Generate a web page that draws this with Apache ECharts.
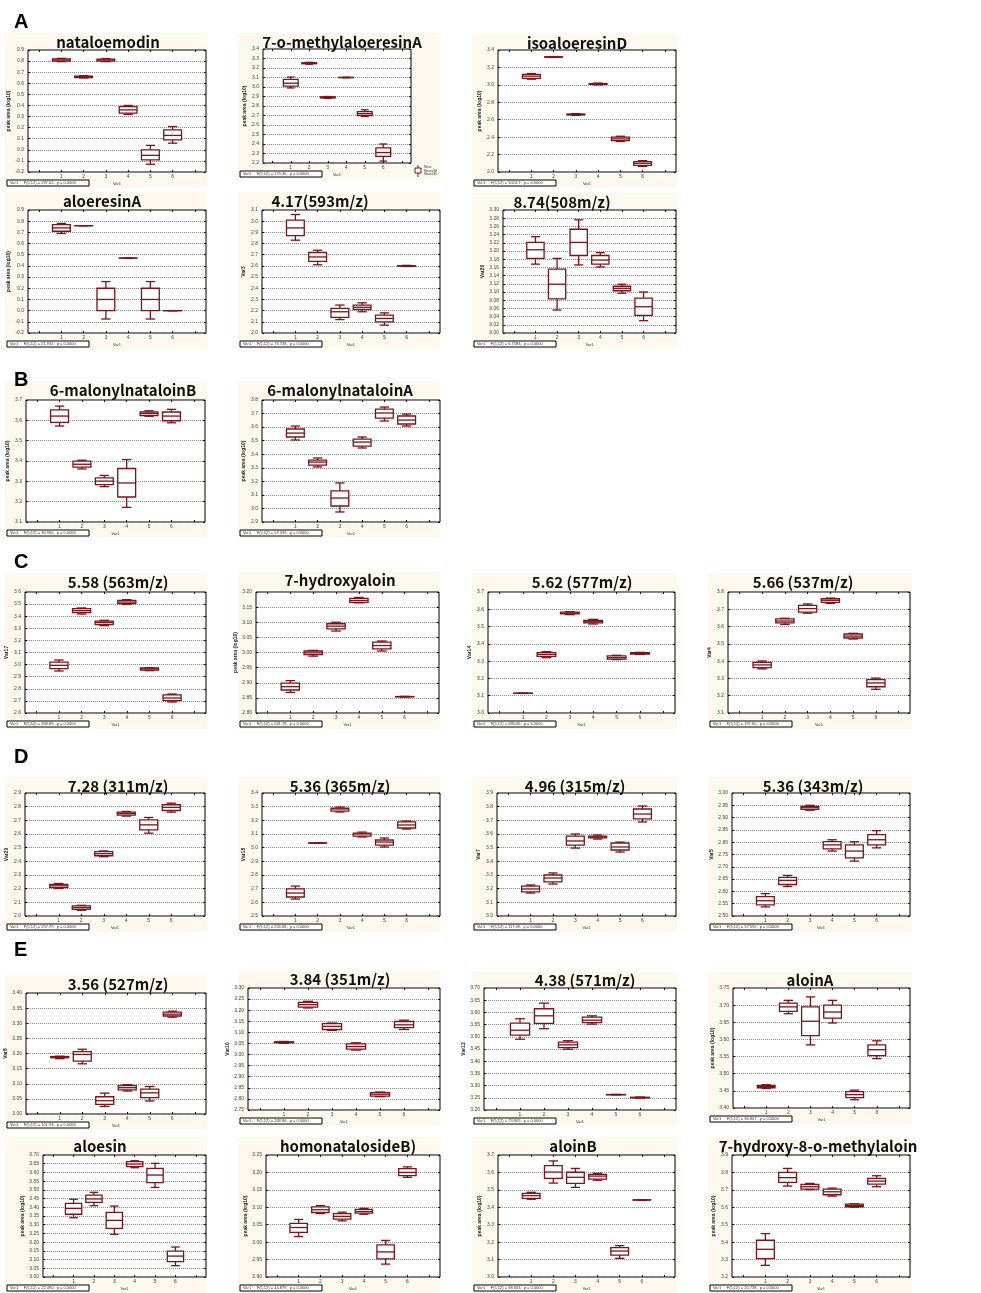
<!DOCTYPE html>
<html><head><meta charset="utf-8">
<script src="https://cdn.jsdelivr.net/npm/echarts/dist/echarts.min.js"></script>
<style>html,body{margin:0;padding:0;background:#fff}#c{width:981px;height:1293px}</style>
</head><body><div id="c"></div>
<script>
// ---------- DATA ----------
const groups = ['', '1', '2', '3', '4', '5', '6', ''];
const titles = ['nataloemodin','7-o-methylaloeresinA','isoaloeresinD','aloeresinA','4.17(593m/z)','8.74(508m/z)',
  '6-malonylnataloinB','6-malonylnataloinA',
  '5.58 (563m/z)','7-hydroxyaloin','5.62 (577m/z)','5.66 (537m/z)',
  '7.28 (311m/z)','5.36 (365m/z)','4.96 (315m/z)','5.36 (343m/z)',
  '3.56 (527m/z)','3.84 (351m/z)','4.38 (571m/z)','aloinA',
  'aloesin','homonatalosideB)','aloinB','7-hydroxy-8-o-methylaloin'];
const yNames = ['peak area (log10)','peak area (log10)','peak area (log10)','peak area (log10)','Var3','Var20',
  'peak area (log10)','peak area (log10)',
  'Var17','peak area (log10)','Var14','Var4',
  'Var29','Var18','Var7','Var5',
  'Var8','Var10','Var12','peak area (log10)',
  'peak area (log10)','peak area (log10)','peak area (log10)','peak area (log10)'];
const yMin  = [-0.2, 2.2, 2.0, -0.2, 2.0, 3.00, 3.1, 2.9, 2.6, 2.80, 3.0, 3.1, 2.0, 2.5, 3.0, 2.50, 3.00, 2.75, 3.20, 3.40, 3.00, 2.90, 3.0, 3.2];
const yMax  = [ 0.9, 3.4, 3.4,  0.9, 3.1, 3.30, 3.7, 3.8, 3.6, 3.20, 3.7, 3.8, 2.9, 3.4, 3.9, 3.00, 3.40, 3.30, 3.70, 3.75, 3.70, 3.25, 3.7, 3.9];
const yStep = [ 0.1, 0.1, 0.2,  0.1, 0.1, 0.02, 0.1, 0.1, 0.1, 0.05, 0.1, 0.1, 0.1, 0.1, 0.1, 0.05, 0.05, 0.05, 0.05, 0.05, 0.05, 0.05, 0.1, 0.1];
const fStats = ['237.02','179.36','1024.7','21.932','73.738','6.7583','36.960','57.339','308.89','241.78','283.46','197.60',
  '257.79','224.48','117.09','57.592','101.93','268.86','73.809','30.807','22.490','44.879','38.663','20.738'];

// each group: [min, Q1, median, Q3, max]
const nataloemodin = [[0.795,0.80,0.81,0.82,0.825],[0.648,0.652,0.66,0.665,0.668],[0.795,0.80,0.81,0.818,0.823],[0.32,0.33,0.36,0.39,0.40],[-0.13,-0.09,-0.05,0.0,0.04],[0.06,0.09,0.13,0.18,0.21]];
const methylaloeresinA = [[2.99,3.01,3.04,3.08,3.105],[3.24,3.245,3.25,3.255,3.26],[2.88,2.885,2.89,2.897,2.90],[3.097,3.099,3.10,3.101,3.103],[2.69,2.70,2.72,2.74,2.76],[2.22,2.27,2.31,2.36,2.40]];
const isoaloeresinD = [[3.065,3.075,3.10,3.12,3.13],[3.315,3.318,3.32,3.322,3.325],[2.65,2.655,2.66,2.665,2.67],[3.00,3.005,3.01,3.015,3.02],[2.35,2.36,2.38,2.40,2.41],[2.065,2.075,2.10,2.12,2.13]];
const aloeresinA = [[0.69,0.71,0.74,0.77,0.78],[0.76,0.76,0.76,0.76,0.76],[-0.075,0.0,0.1,0.2,0.26],[0.47,0.47,0.47,0.47,0.47],[-0.075,0.0,0.1,0.2,0.26],[0.0,0.0,0.0,0.0,0.0]];
const mz593 = [[2.83,2.87,2.94,3.01,3.06],[2.61,2.64,2.68,2.72,2.74],[2.12,2.14,2.19,2.22,2.25],[2.19,2.21,2.23,2.25,2.27],[2.07,2.10,2.13,2.16,2.18],[2.595,2.598,2.60,2.602,2.605]];
const mz508 = [[3.168,3.182,3.203,3.221,3.235],[3.056,3.083,3.119,3.156,3.182],[3.166,3.189,3.221,3.253,3.276],[3.161,3.168,3.178,3.189,3.196],[3.097,3.103,3.109,3.114,3.119],[3.030,3.043,3.064,3.085,3.100]];
const malonylnataloinB = [[3.572,3.590,3.621,3.651,3.670],[3.361,3.370,3.384,3.399,3.404],[3.274,3.284,3.301,3.317,3.329],[3.172,3.223,3.292,3.363,3.407],[3.620,3.623,3.633,3.641,3.647],[3.588,3.598,3.621,3.641,3.654]];
const malonylnataloinA = [[3.505,3.527,3.556,3.586,3.608],[3.306,3.320,3.342,3.357,3.372],[2.974,3.018,3.077,3.129,3.188],[3.446,3.460,3.490,3.512,3.527],[3.645,3.667,3.704,3.733,3.748],[3.608,3.623,3.652,3.682,3.696]];
const mz563 = [[2.947,2.966,2.994,3.021,3.038],[3.418,3.429,3.446,3.462,3.468],[3.322,3.330,3.347,3.360,3.366],[3.498,3.504,3.517,3.531,3.537],[2.950,2.955,2.964,2.972,2.975],[2.691,2.702,2.724,2.749,2.757]];
const hydroxyaloin = [[2.868,2.876,2.887,2.899,2.907],[2.988,2.993,2.999,3.005,3.007],[3.071,3.078,3.087,3.095,3.100],[3.164,3.166,3.172,3.179,3.182],[3.005,3.012,3.023,3.034,3.038],[2.853,2.8535,2.854,2.8545,2.855]];
const mz577 = [[3.113,3.1135,3.114,3.1145,3.115],[3.320,3.328,3.339,3.349,3.355],[3.569,3.573,3.578,3.584,3.586],[3.515,3.521,3.528,3.536,3.542],[3.309,3.312,3.320,3.330,3.334],[3.339,3.341,3.345,3.349,3.351]];
const mz537 = [[3.355,3.362,3.378,3.393,3.401],[3.613,3.621,3.632,3.644,3.648],[3.677,3.684,3.704,3.723,3.731],[3.734,3.740,3.752,3.761,3.765],[3.528,3.534,3.545,3.557,3.561],[3.237,3.252,3.274,3.293,3.302]];
const mz311 = [[2.201,2.208,2.221,2.231,2.238],[2.042,2.049,2.061,2.074,2.078],[2.434,2.441,2.456,2.471,2.476],[2.731,2.738,2.750,2.760,2.765],[2.606,2.630,2.667,2.704,2.721],[2.760,2.772,2.795,2.814,2.826]];
const mz365 = [[2.624,2.639,2.668,2.698,2.719],[3.033,3.033,3.034,3.035,3.035],[3.261,3.268,3.283,3.290,3.297],[3.078,3.085,3.100,3.107,3.114],[3.005,3.019,3.041,3.056,3.071],[3.136,3.144,3.166,3.188,3.195]];
const mz315 = [[3.168,3.176,3.198,3.219,3.227],[3.234,3.249,3.278,3.300,3.315],[3.497,3.519,3.549,3.585,3.600],[3.563,3.571,3.578,3.585,3.593],[3.468,3.483,3.505,3.534,3.541],[3.688,3.710,3.746,3.783,3.805]];
const mz343 = [[2.537,2.545,2.562,2.579,2.591],[2.620,2.628,2.645,2.657,2.665],[2.930,2.934,2.942,2.946,2.950],[2.764,2.773,2.789,2.802,2.810],[2.723,2.736,2.764,2.789,2.802],[2.777,2.789,2.810,2.831,2.847]];
const mz527 = [[3.183,3.186,3.188,3.190,3.191],[3.166,3.175,3.197,3.206,3.214],[3.025,3.032,3.044,3.057,3.069],[3.076,3.080,3.087,3.094,3.097],[3.043,3.054,3.070,3.082,3.091],[3.320,3.324,3.330,3.337,3.340]];
const mz351 = [[3.051,3.053,3.056,3.057,3.059],[3.210,3.214,3.225,3.235,3.240],[3.109,3.113,3.127,3.139,3.142],[3.020,3.024,3.036,3.048,3.053],[2.810,2.813,2.821,2.828,2.831],[3.113,3.121,3.134,3.149,3.155]];
const mz571 = [[3.490,3.507,3.527,3.556,3.574],[3.533,3.555,3.586,3.615,3.638],[3.449,3.456,3.467,3.478,3.484],[3.552,3.558,3.568,3.581,3.586],[3.262,3.2625,3.263,3.2635,3.264],[3.249,3.250,3.251,3.252,3.253]];
const aloinA = [[3.457,3.459,3.463,3.466,3.468],[3.675,3.682,3.695,3.706,3.714],[3.584,3.611,3.653,3.695,3.724],[3.648,3.662,3.680,3.700,3.714],[3.424,3.430,3.439,3.448,3.452],[3.544,3.553,3.570,3.584,3.596]];
const aloesin = [[3.340,3.360,3.394,3.423,3.446],[3.409,3.428,3.448,3.470,3.486],[3.245,3.279,3.325,3.371,3.407],[3.627,3.633,3.648,3.662,3.667],[3.514,3.541,3.585,3.623,3.652],[3.065,3.088,3.120,3.149,3.172]];
const homonatalosideB = [[3.016,3.028,3.042,3.054,3.065],[3.082,3.085,3.093,3.101,3.105],[3.061,3.066,3.074,3.082,3.086],[3.080,3.083,3.088,3.094,3.097],[2.937,2.952,2.972,2.992,3.005],[3.186,3.191,3.200,3.211,3.216]];
const aloinB = [[3.446,3.451,3.467,3.480,3.486],[3.539,3.566,3.602,3.639,3.666],[3.514,3.537,3.572,3.601,3.623],[3.555,3.562,3.579,3.589,3.595],[3.107,3.126,3.149,3.168,3.180],[3.441,3.4415,3.442,3.4425,3.443]];
const hydroxyMethylaloin = [[3.267,3.305,3.359,3.411,3.449],[3.722,3.743,3.770,3.800,3.823],[3.701,3.704,3.718,3.731,3.737],[3.664,3.672,3.689,3.704,3.710],[3.601,3.603,3.610,3.618,3.620],[3.718,3.733,3.750,3.766,3.781]];

const panelData = [nataloemodin, methylaloeresinA, isoaloeresinD, aloeresinA, mz593, mz508,
  malonylnataloinB, malonylnataloinA, mz563, hydroxyaloin, mz577, mz537,
  mz311, mz365, mz315, mz343, mz527, mz351, mz571, aloinA,
  aloesin, homonatalosideB, aloinB, hydroxyMethylaloin];

// ---------- LAYOUT ----------
// [plotLeft, plotTop, plotRight, plotBottom, titleCx, titleCy, column]
const layout = [
  [28,50,206,172,108,42,0],[263,49,411,163,342,42,1],[498,50,676,172,577,43,2],
  [28,210,206,333,102,201,0],[262,210,440,333,320,201,1],[503,210,676,333,562,202,2],
  [26,400,205,522,123,390,0],[262,400,440,522,340,390,1],
  [25,592,206,713,118,582,0],[256,592,439,713,340,580,1],[488,592,675,713,582,582,2],[728,592,910,713,803,582,3],
  [25,793,205,916,118,786,0],[262,793,440,916,340,786,1],[497,793,676,916,575,786,2],[732,793,910,916,813,786,3],
  [26,993,206,1114,118,984,0],[248,988,440,1110,340,979,1],[484,988,676,1110,585,980,2],[733,988,910,1108,810,980,3],
  [43,1155,206,1277,100,1146,0],[266,1155,440,1277,348,1146,1],[498,1155,675,1277,573,1146,2],[732,1155,910,1277,818,1146,3]
];
const colBg = [[5,207],[238,440],[472,677],[708,912]];
const letters = [['A',14,22],['B',14,380],['C',14,562],['D',14,757],['E',14,950]];

const LINE = '#7a1418';
function renderBox(params, api) {
  const x = api.value(0);
  const pts = [1,2,3,4,5].map(k => api.coord([x, api.value(k)]));
  const cx = pts[0][0];
  const band = api.size([1, 0])[0];
  const bw = band * 0.4, cw = band * 0.21;
  const [pMin, pQ1, pMed, pQ3, pMax] = pts.map(p => p[1]);
  const st = {stroke: LINE, lineWidth: 1.3, fill: null};
  return {type: 'group', children: [
    {type: 'line', shape: {x1: cx, y1: pMax, x2: cx, y2: pQ3}, style: st},
    {type: 'line', shape: {x1: cx, y1: pQ1, x2: cx, y2: pMin}, style: st},
    {type: 'line', shape: {x1: cx - cw, y1: pMax, x2: cx + cw, y2: pMax}, style: st},
    {type: 'line', shape: {x1: cx - cw, y1: pMin, x2: cx + cw, y2: pMin}, style: st},
    {type: 'rect', shape: {x: cx - bw, y: pQ3, width: 2 * bw, height: Math.max(pQ1 - pQ3, 0.01)}, style: {stroke: LINE, lineWidth: 1.3, fill: '#fff'}},
    {type: 'line', shape: {x1: cx - bw, y1: pMed, x2: cx + bw, y2: pMed}, style: st}
  ]};
}

const grid = [], xAxis = [], yAxis = [], series = [], graphic = [];
layout.forEach((L, i) => {
  const [l, t, r, b, tx, ty, col] = L;
  const dec = yStep[i] < 0.1 ? 2 : 1;
  const tick = {show: true, alignWithLabel: true, inside: true, length: 2, lineStyle: {color: '#000'}};
  grid.push({left: l, top: t, width: r - l, height: b - t, show: true, borderColor: '#000', borderWidth: 1, backgroundColor: '#fff', containLabel: false});
  xAxis.push({gridIndex: i, type: 'category', position: 'bottom', data: groups, boundaryGap: true,
    axisLine: {show: false, onZero: false}, axisTick: tick,
    axisLabel: {fontSize: 5, color: '#444', margin: 2, interval: 0}, splitLine: {show: false}});
  xAxis.push({gridIndex: i, type: 'category', position: 'top', data: groups, boundaryGap: true,
    axisLine: {show: false, onZero: false}, axisTick: tick, axisLabel: {show: false}, splitLine: {show: false}});
  yAxis.push({gridIndex: i, type: 'value', position: 'left', min: yMin[i], max: yMax[i], interval: yStep[i],
    axisLine: {show: false, onZero: false}, axisTick: {show: true, inside: true, length: 2, lineStyle: {color: '#000'}},
    axisLabel: {fontSize: 5, color: '#444', margin: 4, formatter: v => v.toFixed(dec)},
    splitLine: {show: true, lineStyle: {type: 'dotted', color: '#8c8c8c', width: 1}},
    name: yNames[i], nameLocation: 'middle', nameGap: 16, nameRotate: 90,
    nameTextStyle: {fontSize: 5, color: '#222', fontWeight: 'bold'}});
  yAxis.push({gridIndex: i, type: 'value', position: 'right', min: yMin[i], max: yMax[i], interval: yStep[i],
    axisLine: {show: false, onZero: false}, axisTick: {show: true, inside: true, length: 2, lineStyle: {color: '#000'}},
    axisLabel: {show: false}, splitLine: {show: false}});
  series.push({type: 'custom', xAxisIndex: 2 * i, yAxisIndex: 2 * i, renderItem: renderBox, clip: false,
    encode: {x: 0, y: [1, 2, 3, 4, 5]},
    data: panelData[i].map((d, k) => [k + 1].concat(d))});

  // panel background
  graphic.push({type: 'rect', z: -10, silent: true, shape: {x: colBg[col][0], y: ty - 9, width: colBg[col][1] - colBg[col][0], height: b + 16 - (ty - 9)}, style: {fill: '#fdf9ee'}});
  // title
  graphic.push({type: 'text', z: 10, x: tx, y: ty, style: {text: titles[i], font: 'bold 15px "Noto Sans CJK KR", "Noto Sans", sans-serif', fill: '#111', align: 'center', verticalAlign: 'middle'}});
  // stats box
  const sx = colBg[col][0] + 2, sy = b + 8;
  graphic.push({type: 'rect', z: 10, shape: {x: sx, y: sy, width: 82, height: 6}, style: {fill: '#fff', stroke: '#000', lineWidth: 1}});
  graphic.push({type: 'text', z: 11, x: sx + 3, y: sy + 3, style: {text: 'Var1     F(5,12) = ' + fStats[i] + ',  p = 0.0000', font: '4px sans-serif', fill: '#333', verticalAlign: 'middle'}});
  graphic.push({type: 'text', z: 11, x: (l + r) / 2, y: sy + 4, style: {text: 'Var1', font: '4px sans-serif', fill: '#333', align: 'center', verticalAlign: 'middle'}});
});

// small legend in panel 2
graphic.push({type: 'rect', z: 10, shape: {x: 415, y: 168, width: 6, height: 5}, style: {fill: '#fff', stroke: LINE, lineWidth: 1}});
graphic.push({type: 'line', z: 10, shape: {x1: 418, y1: 165, x2: 418, y2: 168}, style: {stroke: LINE, lineWidth: 1}});
graphic.push({type: 'line', z: 10, shape: {x1: 418, y1: 173, x2: 418, y2: 177}, style: {stroke: LINE, lineWidth: 1}});
graphic.push({type: 'text', z: 10, x: 424, y: 171, style: {text: 'Mean\nMean±SE\nMean±SD', font: '3px sans-serif', fill: '#333', verticalAlign: 'middle', lineHeight: 3.5}});

letters.forEach(([t, x, y]) => graphic.push({type: 'text', z: 10, x: x, y: y, style: {text: t, font: 'bold 20px "Liberation Sans", Arial, sans-serif', fill: '#000', verticalAlign: 'middle'}}));

const chart = echarts.init(document.getElementById('c'), null, {renderer: 'canvas'});
chart.setOption({animation: false, backgroundColor: '#fff', grid, xAxis, yAxis, series, graphic});
</script></body></html>
